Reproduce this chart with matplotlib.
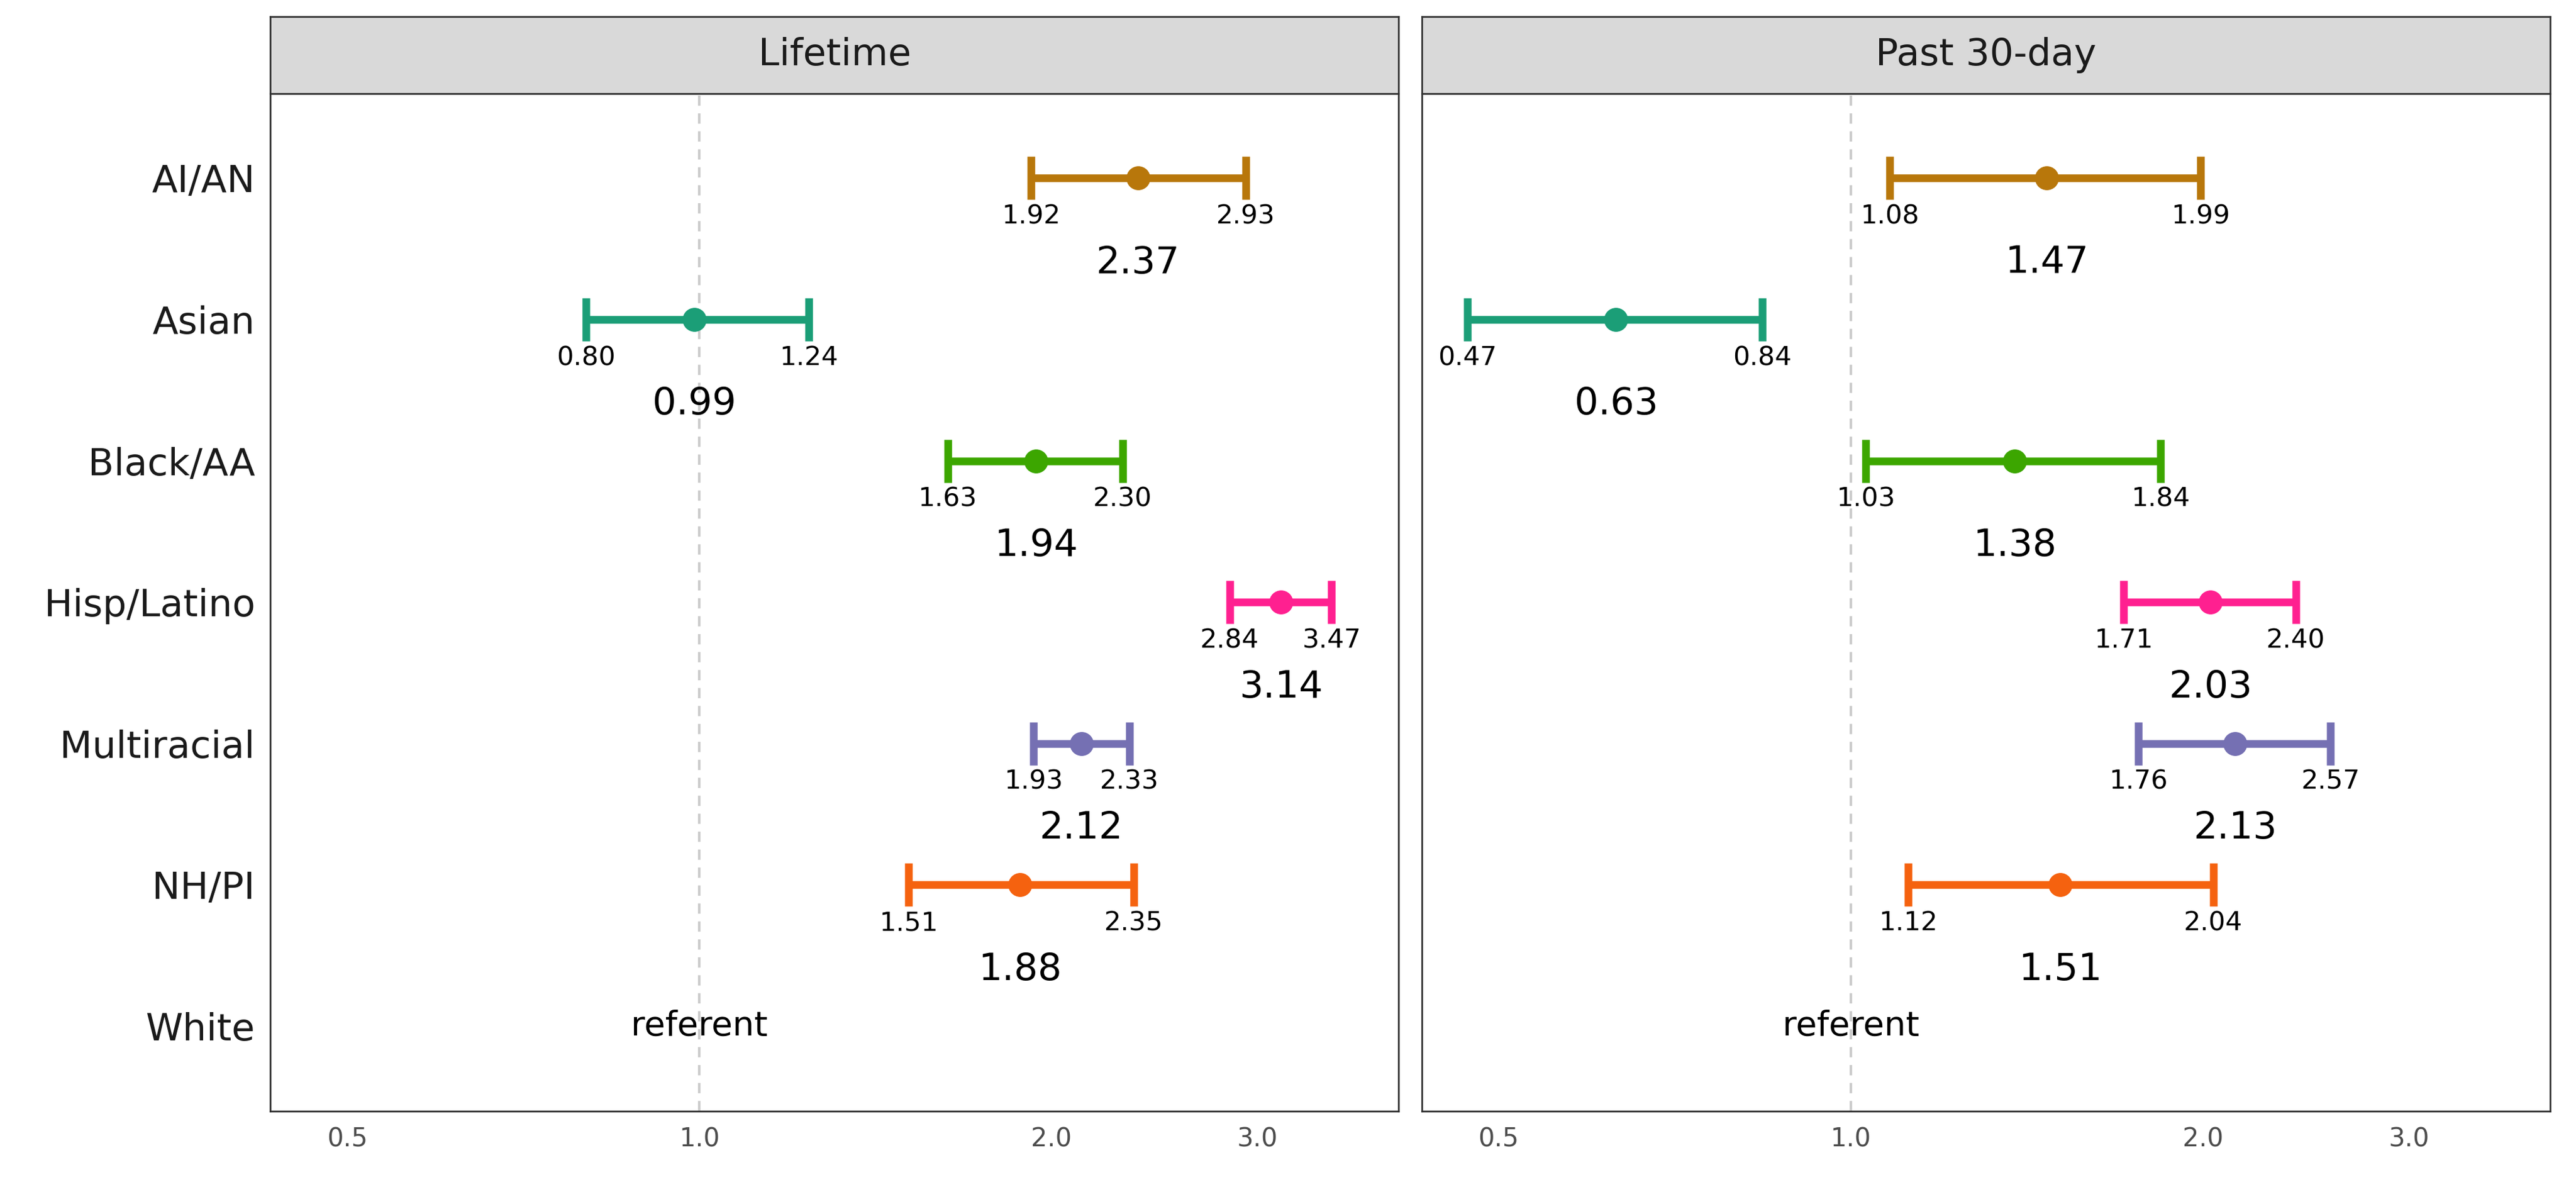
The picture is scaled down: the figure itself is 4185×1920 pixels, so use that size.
import matplotlib
matplotlib.use("Agg")
import matplotlib.pyplot as plt
import numpy as np

groups = ["AI/AN", "Asian", "Black/AA", "Hisp/Latino", "Multiracial", "NH/PI", "White"]
colors = ["#B8770B", "#1B9E77", "#3CA600", "#FF2090", "#7570B3", "#F5620F", None]

panels = ["Lifetime", "Past 30-day"]
est = {"Lifetime":    [2.37, 0.99, 1.94, 3.14, 2.12, 1.88, None],
       "Past 30-day": [1.47, 0.63, 1.38, 2.03, 2.13, 1.51, None]}
lo = {"Lifetime":    [1.92, 0.80, 1.63, 2.84, 1.93, 1.51, None],
      "Past 30-day": [1.08, 0.47, 1.03, 1.71, 1.76, 1.12, None]}
hi = {"Lifetime":    [2.93, 1.24, 2.30, 3.47, 2.33, 2.35, None],
      "Past 30-day": [1.99, 0.84, 1.84, 2.40, 2.57, 2.04, None]}
xticks = [0.5, 1.0, 2.0, 3.0]

fig = plt.figure(figsize=(41.85, 19.2), dpi=100)
lefts = [0.105, 0.552]
w = 0.438
bottom, top, strip_top = 0.060, 0.921, 0.986

for pi, name in enumerate(panels):
    ax = fig.add_axes([lefts[pi], bottom, w, top - bottom])
    sax = fig.add_axes([lefts[pi], top, w, strip_top - top])
    sax.set_facecolor("#D9D9D9")
    sax.set_xticks([]); sax.set_yticks([])
    for s in sax.spines.values():
        s.set_color("#333333"); s.set_linewidth(2)
    sax.text(0.5, 0.5, name, ha="center", va="center", fontsize=44, color="#1A1A1A",
             transform=sax.transAxes)

    ax.set_xscale("log")
    ax.set_xlim(0.43, 3.96)
    ax.set_ylim(0.4, 7.6)
    ax.axvline(1.0, color="#CCCCCC", ls=(0, (4, 3)), lw=3, zorder=0)
    n = len(groups)
    for i, g in enumerate(groups):
        y = n - i
        e = est[name][i]
        if e is None:
            ax.text(1.0, y, "referent", ha="center", va="center", fontsize=40)
            continue
        c = colors[i]
        ax.errorbar([e], [y], xerr=[[e - lo[name][i]], [hi[name][i] - e]], fmt="o",
                    color=c, ms=27, elinewidth=9, capsize=25, capthick=9)
        ax.text(lo[name][i], y - 0.27, f"{lo[name][i]:.2f}", ha="center", va="center", fontsize=31)
        ax.text(hi[name][i], y - 0.27, f"{hi[name][i]:.2f}", ha="center", va="center", fontsize=31)
        ax.text(e, y - 0.6, f"{e:.2f}", ha="center", va="center", fontsize=44)

    ax.set_xticks(xticks)
    ax.set_xticklabels([f"{t:.1f}" for t in xticks], fontsize=30, color="#4D4D4D")
    ax.xaxis.set_minor_locator(matplotlib.ticker.NullLocator())
    ax.tick_params(axis="x", length=0, pad=18)
    ax.set_yticks(range(n, 0, -1))
    if pi == 0:
        ax.set_yticklabels(groups, fontsize=44, color="#1A1A1A")
    else:
        ax.set_yticklabels([])
    ax.tick_params(axis="y", length=0, pad=18)
    for s in ax.spines.values():
        s.set_color("#333333"); s.set_linewidth(2)

fig.savefig("out.png", dpi=100)
